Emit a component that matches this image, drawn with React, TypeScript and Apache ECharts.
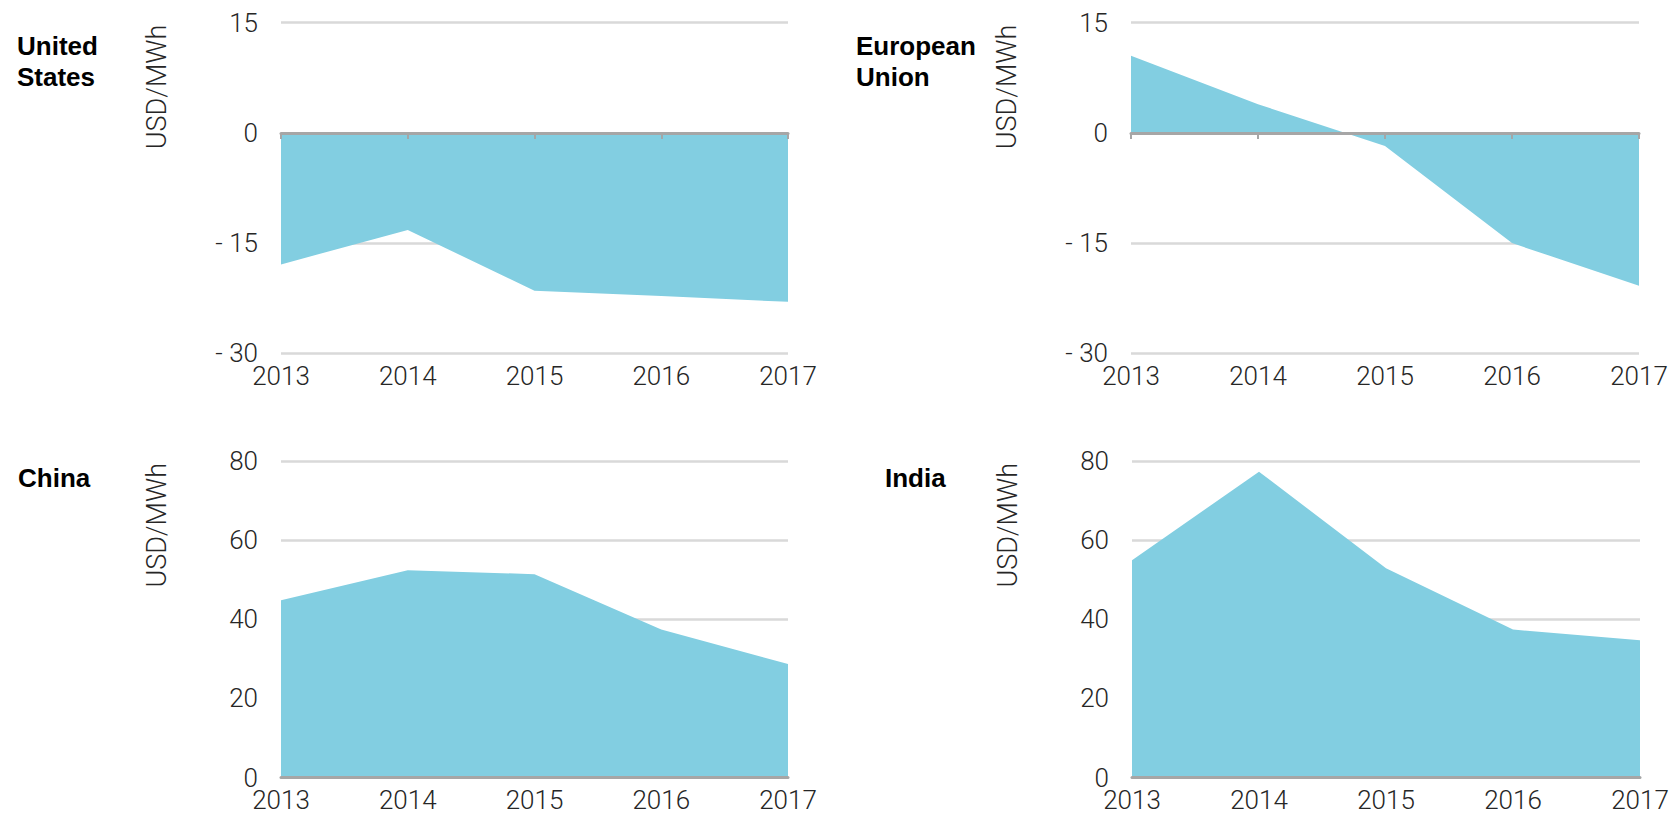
import React, { useEffect, useRef } from "react";
import * as echarts from "echarts";

const years = ["2013", "2014", "2015", "2016", "2017"];
const usValues = [-17.9, -13.2, -21.5, -22.2, -23.0];
const euValues = [10.5, 3.9, -1.8, -15.0, -20.8];
const chinaValues = [44.8, 52.4, 51.4, 37.4, 28.7];
const indiaValues = [54.9, 77.3, 52.9, 37.4, 34.7];
const panelTitles = ["United\nStates", "European\nUnion", "China", "India"];
const unitLabel = "USD/MWh";
const topRowScale = { min: -30, max: 15, interval: 15 };
const bottomRowScale = { min: 0, max: 80, interval: 20 };

const AREA_COLOR = "#82CEE1";
const AXIS_COLOR = "#A6A6A6";
const GRID_COLOR = "#D9D9D9";
const TEXT_COLOR = "#262626";
const FONT = "Roboto, 'Liberation Sans', sans-serif";
const TITLE_FONT = "'Liberation Sans', Arial, sans-serif";

const panels = [
  { values: usValues, scale: topRowScale, title: panelTitles[0], grid: { left: 281, top: 22.7, width: 507, height: 330.6 }, titleX: 17, titleY: 61, unitX: 157, zeroLine: true, xMargin: 10, xLineHeight: 26 },
  { values: euValues, scale: topRowScale, title: panelTitles[1], grid: { left: 1131, top: 22.7, width: 508, height: 330.6 }, titleX: 856, titleY: 61, unitX: 1007, zeroLine: true, xMargin: 10, xLineHeight: 26 },
  { values: chinaValues, scale: bottomRowScale, title: panelTitles[2], grid: { left: 281, top: 461, width: 507, height: 317.5 }, titleX: 18, titleY: 478, unitX: 157, zeroLine: false, xMargin: 12.5, xLineHeight: 20 },
  { values: indiaValues, scale: bottomRowScale, title: panelTitles[3], grid: { left: 1132, top: 461, width: 508, height: 317.5 }, titleX: 885, titleY: 478, unitX: 1008, zeroLine: false, xMargin: 12.5, xLineHeight: 20 },
];

const fmt = (v: number) => (v < 0 ? "- " + Math.abs(v) : String(v));

export default function App() {
  const ref = useRef<HTMLDivElement>(null);
  useEffect(() => {
    if (!ref.current) return;
    const chart = echarts.init(ref.current, undefined, { renderer: "svg" });
    const grids: any[] = [];
    const xAxes: any[] = [];
    const yAxes: any[] = [];
    const series: any[] = [];
    const graphics: any[] = [];
    panels.forEach((p, i) => {
      grids.push({ ...p.grid, containLabel: false });
      const labelAxisIndex = xAxes.length;
      xAxes.push({
        type: "category",
        gridIndex: i,
        data: years,
        boundaryGap: false,
        position: "bottom",
        axisLine: p.zeroLine
          ? { show: false, onZero: false }
          : { show: true, onZero: true, lineStyle: { color: AXIS_COLOR, width: 3 } },
        axisTick: { show: false },
        axisLabel: {
          color: TEXT_COLOR,
          fontSize: 26,
          fontWeight: 300,
          fontFamily: FONT,
          margin: p.xMargin,
          lineHeight: p.xLineHeight,
        },
        splitLine: { show: false },
        z: 5,
      });
      if (p.zeroLine) {
        xAxes.push({
          type: "category",
          gridIndex: i,
          data: years,
          boundaryGap: false,
          position: "top",
          axisLine: { show: true, onZero: true, lineStyle: { color: AXIS_COLOR, width: 3 } },
          axisTick: { show: true, inside: true, length: 6, lineStyle: { color: AXIS_COLOR, width: 2 } },
          axisLabel: { show: false },
          splitLine: { show: false },
          z: 5,
        });
      }
      yAxes.push({
        type: "value",
        gridIndex: i,
        min: p.scale.min,
        max: p.scale.max,
        interval: p.scale.interval,
        axisLine: { show: false },
        axisTick: { show: false },
        axisLabel: { color: TEXT_COLOR, fontSize: 26, fontWeight: 300, fontFamily: FONT, margin: 23, formatter: fmt },
        splitLine: { show: true, lineStyle: { color: GRID_COLOR, width: 2.5 } },
      });
      series.push({
        type: "line",
        xAxisIndex: labelAxisIndex,
        yAxisIndex: i,
        data: p.values,
        symbol: "none",
        lineStyle: { width: 0 },
        areaStyle: { color: AREA_COLOR, opacity: 1 },
        z: 2,
      });
      graphics.push({
        type: "text",
        x: p.titleX,
        y: p.titleY,
        style: {
          text: p.title,
          fontSize: 26,
          fontWeight: "bold",
          fontFamily: TITLE_FONT,
          fill: "#000",
          lineHeight: 31,
          align: "left",
          verticalAlign: "middle",
        },
      });
      graphics.push({
        type: "text",
        x: p.unitX,
        y: p.grid.top + 2,
        rotation: Math.PI / 2,
        style: {
          text: unitLabel,
          fontSize: 27,
          fontWeight: 300,
          fontFamily: FONT,
          fill: TEXT_COLOR,
          align: "right",
          verticalAlign: "middle",
        },
      });
    });
    chart.setOption({
      animation: false,
      backgroundColor: "#fff",
      grid: grids,
      xAxis: xAxes,
      yAxis: yAxes,
      series,
      graphic: graphics,
    });
    return () => chart.dispose();
  }, []);
  return (
    <div
      ref={ref}
      style={{ position: "fixed", left: 0, top: 0, width: 1676, height: 813, background: "#fff" }}
    />
  );
}
